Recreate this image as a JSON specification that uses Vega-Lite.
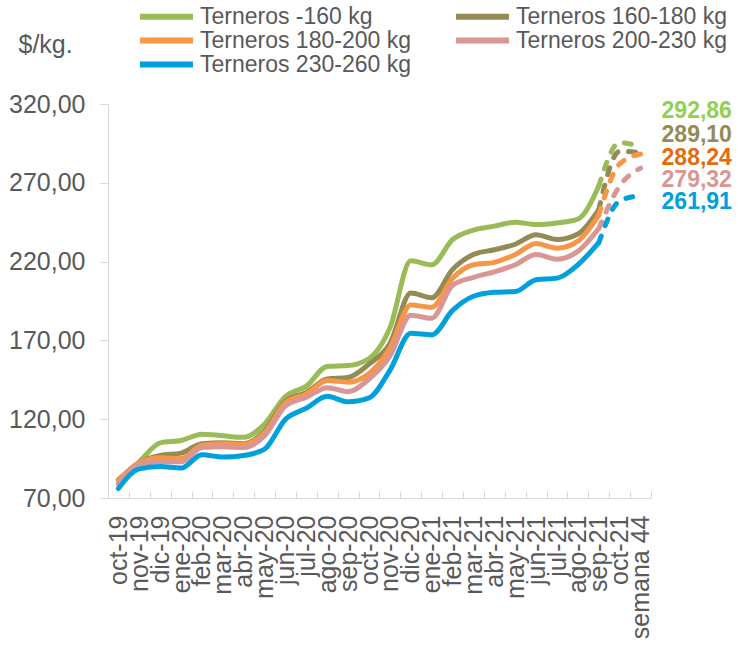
{
  "$schema": "https://vega.github.io/schema/vega-lite/v6.json",
  "width": 543,
  "height": 394,
  "autosize": {"type": "none"},
  "padding": {"left": 108, "top": 104, "right": 90, "bottom": 147},
  "background": "white",
  "config": {"view": {"stroke": null}, "font": "Liberation Sans"},
  "datasets": {
    "precios": [
      {"mes":"oct-19","serie":"Terneros -160 kg","valor":81.5,"tramo":"real"},
      {"mes":"nov-19","serie":"Terneros -160 kg","valor":93,"tramo":"real"},
      {"mes":"dic-19","serie":"Terneros -160 kg","valor":105,"tramo":"real"},
      {"mes":"ene-20","serie":"Terneros -160 kg","valor":106.5,"tramo":"real"},
      {"mes":"feb-20","serie":"Terneros -160 kg","valor":110.5,"tramo":"real"},
      {"mes":"mar-20","serie":"Terneros -160 kg","valor":109.5,"tramo":"real"},
      {"mes":"abr-20","serie":"Terneros -160 kg","valor":108.5,"tramo":"real"},
      {"mes":"may-20","serie":"Terneros -160 kg","valor":117,"tramo":"real"},
      {"mes":"jun-20","serie":"Terneros -160 kg","valor":134.5,"tramo":"real"},
      {"mes":"jul-20","serie":"Terneros -160 kg","valor":141,"tramo":"real"},
      {"mes":"ago-20","serie":"Terneros -160 kg","valor":153.5,"tramo":"real"},
      {"mes":"sep-20","serie":"Terneros -160 kg","valor":154,"tramo":"real"},
      {"mes":"oct-20","serie":"Terneros -160 kg","valor":158.5,"tramo":"real"},
      {"mes":"nov-20","serie":"Terneros -160 kg","valor":178,"tramo":"real"},
      {"mes":"dic-20","serie":"Terneros -160 kg","valor":220.5,"tramo":"real"},
      {"mes":"ene-21","serie":"Terneros -160 kg","valor":218,"tramo":"real"},
      {"mes":"feb-21","serie":"Terneros -160 kg","valor":234,"tramo":"real"},
      {"mes":"mar-21","serie":"Terneros -160 kg","valor":240,"tramo":"real"},
      {"mes":"abr-21","serie":"Terneros -160 kg","valor":242.5,"tramo":"real"},
      {"mes":"may-21","serie":"Terneros -160 kg","valor":245,"tramo":"real"},
      {"mes":"jun-21","serie":"Terneros -160 kg","valor":243.5,"tramo":"real"},
      {"mes":"jul-21","serie":"Terneros -160 kg","valor":244.5,"tramo":"real"},
      {"mes":"ago-21","serie":"Terneros -160 kg","valor":247,"tramo":"real"},
      {"mes":"sep-21","serie":"Terneros -160 kg","valor":268,"tramo":"enlace"},
      {"mes":"oct-21","serie":"Terneros -160 kg","valor":295.5,"tramo":"proy"},
      {"mes":"semana 44","serie":"Terneros -160 kg","valor":292.86,"tramo":"proy"},

      {"mes":"oct-19","serie":"Terneros 160-180 kg","valor":81.5,"tramo":"real"},
      {"mes":"nov-19","serie":"Terneros 160-180 kg","valor":92.5,"tramo":"real"},
      {"mes":"dic-19","serie":"Terneros 160-180 kg","valor":97,"tramo":"real"},
      {"mes":"ene-20","serie":"Terneros 160-180 kg","valor":98.5,"tramo":"real"},
      {"mes":"feb-20","serie":"Terneros 160-180 kg","valor":104.5,"tramo":"real"},
      {"mes":"mar-20","serie":"Terneros 160-180 kg","valor":105,"tramo":"real"},
      {"mes":"abr-20","serie":"Terneros 160-180 kg","valor":104.5,"tramo":"real"},
      {"mes":"may-20","serie":"Terneros 160-180 kg","valor":112.5,"tramo":"real"},
      {"mes":"jun-20","serie":"Terneros 160-180 kg","valor":131.5,"tramo":"real"},
      {"mes":"jul-20","serie":"Terneros 160-180 kg","valor":137,"tramo":"real"},
      {"mes":"ago-20","serie":"Terneros 160-180 kg","valor":145.5,"tramo":"real"},
      {"mes":"sep-20","serie":"Terneros 160-180 kg","valor":146.5,"tramo":"real"},
      {"mes":"oct-20","serie":"Terneros 160-180 kg","valor":155,"tramo":"real"},
      {"mes":"nov-20","serie":"Terneros 160-180 kg","valor":168,"tramo":"real"},
      {"mes":"dic-20","serie":"Terneros 160-180 kg","valor":200,"tramo":"real"},
      {"mes":"ene-21","serie":"Terneros 160-180 kg","valor":197,"tramo":"real"},
      {"mes":"feb-21","serie":"Terneros 160-180 kg","valor":215,"tramo":"real"},
      {"mes":"mar-21","serie":"Terneros 160-180 kg","valor":224.5,"tramo":"real"},
      {"mes":"abr-21","serie":"Terneros 160-180 kg","valor":227.5,"tramo":"real"},
      {"mes":"may-21","serie":"Terneros 160-180 kg","valor":231,"tramo":"real"},
      {"mes":"jun-21","serie":"Terneros 160-180 kg","valor":237,"tramo":"real"},
      {"mes":"jul-21","serie":"Terneros 160-180 kg","valor":234,"tramo":"real"},
      {"mes":"ago-21","serie":"Terneros 160-180 kg","valor":237.5,"tramo":"real"},
      {"mes":"sep-21","serie":"Terneros 160-180 kg","valor":253,"tramo":"enlace"},
      {"mes":"oct-21","serie":"Terneros 160-180 kg","valor":290,"tramo":"proy"},
      {"mes":"semana 44","serie":"Terneros 160-180 kg","valor":289.10,"tramo":"proy"},

      {"mes":"oct-19","serie":"Terneros 180-200 kg","valor":81,"tramo":"real"},
      {"mes":"nov-19","serie":"Terneros 180-200 kg","valor":92.5,"tramo":"real"},
      {"mes":"dic-19","serie":"Terneros 180-200 kg","valor":95.5,"tramo":"real"},
      {"mes":"ene-20","serie":"Terneros 180-200 kg","valor":95,"tramo":"real"},
      {"mes":"feb-20","serie":"Terneros 180-200 kg","valor":103.5,"tramo":"real"},
      {"mes":"mar-20","serie":"Terneros 180-200 kg","valor":104.5,"tramo":"real"},
      {"mes":"abr-20","serie":"Terneros 180-200 kg","valor":104,"tramo":"real"},
      {"mes":"may-20","serie":"Terneros 180-200 kg","valor":111.5,"tramo":"real"},
      {"mes":"jun-20","serie":"Terneros 180-200 kg","valor":130.5,"tramo":"real"},
      {"mes":"jul-20","serie":"Terneros 180-200 kg","valor":136,"tramo":"real"},
      {"mes":"ago-20","serie":"Terneros 180-200 kg","valor":144.5,"tramo":"real"},
      {"mes":"sep-20","serie":"Terneros 180-200 kg","valor":143.5,"tramo":"real"},
      {"mes":"oct-20","serie":"Terneros 180-200 kg","valor":149,"tramo":"real"},
      {"mes":"nov-20","serie":"Terneros 180-200 kg","valor":165,"tramo":"real"},
      {"mes":"dic-20","serie":"Terneros 180-200 kg","valor":192.5,"tramo":"real"},
      {"mes":"ene-21","serie":"Terneros 180-200 kg","valor":191,"tramo":"real"},
      {"mes":"feb-21","serie":"Terneros 180-200 kg","valor":209.5,"tramo":"real"},
      {"mes":"mar-21","serie":"Terneros 180-200 kg","valor":218,"tramo":"real"},
      {"mes":"abr-21","serie":"Terneros 180-200 kg","valor":219.5,"tramo":"real"},
      {"mes":"may-21","serie":"Terneros 180-200 kg","valor":224.5,"tramo":"real"},
      {"mes":"jun-21","serie":"Terneros 180-200 kg","valor":231.5,"tramo":"real"},
      {"mes":"jul-21","serie":"Terneros 180-200 kg","valor":228.5,"tramo":"real"},
      {"mes":"ago-21","serie":"Terneros 180-200 kg","valor":233,"tramo":"real"},
      {"mes":"sep-21","serie":"Terneros 180-200 kg","valor":249.5,"tramo":"enlace"},
      {"mes":"oct-21","serie":"Terneros 180-200 kg","valor":282,"tramo":"proy"},
      {"mes":"semana 44","serie":"Terneros 180-200 kg","valor":288.24,"tramo":"proy"},

      {"mes":"oct-19","serie":"Terneros 200-230 kg","valor":79,"tramo":"real"},
      {"mes":"nov-19","serie":"Terneros 200-230 kg","valor":91.5,"tramo":"real"},
      {"mes":"dic-19","serie":"Terneros 200-230 kg","valor":93,"tramo":"real"},
      {"mes":"ene-20","serie":"Terneros 200-230 kg","valor":93,"tramo":"real"},
      {"mes":"feb-20","serie":"Terneros 200-230 kg","valor":102,"tramo":"real"},
      {"mes":"mar-20","serie":"Terneros 200-230 kg","valor":102.5,"tramo":"real"},
      {"mes":"abr-20","serie":"Terneros 200-230 kg","valor":102,"tramo":"real"},
      {"mes":"may-20","serie":"Terneros 200-230 kg","valor":109.5,"tramo":"real"},
      {"mes":"jun-20","serie":"Terneros 200-230 kg","valor":128.5,"tramo":"real"},
      {"mes":"jul-20","serie":"Terneros 200-230 kg","valor":134,"tramo":"real"},
      {"mes":"ago-20","serie":"Terneros 200-230 kg","valor":140,"tramo":"real"},
      {"mes":"sep-20","serie":"Terneros 200-230 kg","valor":137.5,"tramo":"real"},
      {"mes":"oct-20","serie":"Terneros 200-230 kg","valor":145.5,"tramo":"real"},
      {"mes":"nov-20","serie":"Terneros 200-230 kg","valor":160,"tramo":"real"},
      {"mes":"dic-20","serie":"Terneros 200-230 kg","valor":186,"tramo":"real"},
      {"mes":"ene-21","serie":"Terneros 200-230 kg","valor":184,"tramo":"real"},
      {"mes":"feb-21","serie":"Terneros 200-230 kg","valor":205,"tramo":"real"},
      {"mes":"mar-21","serie":"Terneros 200-230 kg","valor":210,"tramo":"real"},
      {"mes":"abr-21","serie":"Terneros 200-230 kg","valor":213.5,"tramo":"real"},
      {"mes":"may-21","serie":"Terneros 200-230 kg","valor":218,"tramo":"real"},
      {"mes":"jun-21","serie":"Terneros 200-230 kg","valor":224.5,"tramo":"real"},
      {"mes":"jul-21","serie":"Terneros 200-230 kg","valor":221.5,"tramo":"real"},
      {"mes":"ago-21","serie":"Terneros 200-230 kg","valor":226.5,"tramo":"real"},
      {"mes":"sep-21","serie":"Terneros 200-230 kg","valor":241,"tramo":"enlace"},
      {"mes":"oct-21","serie":"Terneros 200-230 kg","valor":268,"tramo":"proy"},
      {"mes":"semana 44","serie":"Terneros 200-230 kg","valor":279.32,"tramo":"proy"},

      {"mes":"oct-19","serie":"Terneros 230-260 kg","valor":76,"tramo":"real"},
      {"mes":"nov-19","serie":"Terneros 230-260 kg","valor":88.5,"tramo":"real"},
      {"mes":"dic-19","serie":"Terneros 230-260 kg","valor":90,"tramo":"real"},
      {"mes":"ene-20","serie":"Terneros 230-260 kg","valor":89,"tramo":"real"},
      {"mes":"feb-20","serie":"Terneros 230-260 kg","valor":97.5,"tramo":"real"},
      {"mes":"mar-20","serie":"Terneros 230-260 kg","valor":96,"tramo":"real"},
      {"mes":"abr-20","serie":"Terneros 230-260 kg","valor":97,"tramo":"real"},
      {"mes":"may-20","serie":"Terneros 230-260 kg","valor":101,"tramo":"real"},
      {"mes":"jun-20","serie":"Terneros 230-260 kg","valor":120,"tramo":"real"},
      {"mes":"jul-20","serie":"Terneros 230-260 kg","valor":127,"tramo":"real"},
      {"mes":"ago-20","serie":"Terneros 230-260 kg","valor":134.5,"tramo":"real"},
      {"mes":"sep-20","serie":"Terneros 230-260 kg","valor":131,"tramo":"real"},
      {"mes":"oct-20","serie":"Terneros 230-260 kg","valor":133.5,"tramo":"real"},
      {"mes":"nov-20","serie":"Terneros 230-260 kg","valor":151,"tramo":"real"},
      {"mes":"dic-20","serie":"Terneros 230-260 kg","valor":174.5,"tramo":"real"},
      {"mes":"ene-21","serie":"Terneros 230-260 kg","valor":173.5,"tramo":"real"},
      {"mes":"feb-21","serie":"Terneros 230-260 kg","valor":189,"tramo":"real"},
      {"mes":"mar-21","serie":"Terneros 230-260 kg","valor":198,"tramo":"real"},
      {"mes":"abr-21","serie":"Terneros 230-260 kg","valor":200.5,"tramo":"real"},
      {"mes":"may-21","serie":"Terneros 230-260 kg","valor":201,"tramo":"real"},
      {"mes":"jun-21","serie":"Terneros 230-260 kg","valor":208.5,"tramo":"real"},
      {"mes":"jul-21","serie":"Terneros 230-260 kg","valor":209.5,"tramo":"real"},
      {"mes":"ago-21","serie":"Terneros 230-260 kg","valor":218,"tramo":"real"},
      {"mes":"sep-21","serie":"Terneros 230-260 kg","valor":232,"tramo":"enlace"},
      {"mes":"oct-21","serie":"Terneros 230-260 kg","valor":258.5,"tramo":"proy"},
      {"mes":"semana 44","serie":"Terneros 230-260 kg","valor":261.91,"tramo":"proy"}
    ],
    "finales": [
      {"mes":"semana 44","serie":"Terneros -160 kg","valor":292.86,"texto":"292,86"},
      {"mes":"semana 44","serie":"Terneros 160-180 kg","valor":289.10,"texto":"289,10"},
      {"mes":"semana 44","serie":"Terneros 180-200 kg","valor":288.24,"texto":"288,24"},
      {"mes":"semana 44","serie":"Terneros 200-230 kg","valor":279.32,"texto":"279,32"},
      {"mes":"semana 44","serie":"Terneros 230-260 kg","valor":261.91,"texto":"261,91"}
    ]
  },
  "encoding": {
    "x": {
      "field": "mes",
      "type": "ordinal",
      "sort": ["oct-19","nov-19","dic-19","ene-20","feb-20","mar-20","abr-20","may-20","jun-20","jul-20","ago-20","sep-20","oct-20","nov-20","dic-20","ene-21","feb-21","mar-21","abr-21","may-21","jun-21","jul-21","ago-21","sep-21","oct-21","semana 44"],
      "bandPosition": 0.5,
      "scale": {"type": "band", "paddingInner": 0, "paddingOuter": 0},
      "axis": {
        "title": null,
        "labelAngle": -90,
        "labelAlign": "right",
        "labelBaseline": "middle",
        "labelFontSize": 25,
        "labelColor": "#595959",
        "labelOverlap": false,
        "labelPadding": 24,
        "tickBand": "extent",
        "tickSize": -7,
        "tickColor": "#D9D9D9",
        "domainColor": "#D9D9D9",
        "grid": false
      }
    },
    "y": {
      "field": "valor",
      "type": "quantitative",
      "scale": {"domain": [70, 320], "nice": false, "zero": false},
      "axis": {
        "values": [70, 120, 170, 220, 270, 320],
        "labelExpr": "replace(format(datum.value, '.2f'), '.', ',')",
        "labelFontSize": 25,
        "labelColor": "#595959",
        "labelPadding": 15,
        "tickSize": 8,
        "tickColor": "#D9D9D9",
        "domainColor": "#D9D9D9",
        "grid": false,
        "title": "$/kg.",
        "titleAngle": 0,
        "titleX": -90,
        "titleY": -60,
        "titleAlign": "left",
        "titleBaseline": "middle",
        "titleFontSize": 25,
        "titleFontWeight": "normal",
        "titleColor": "#595959"
      }
    }
  },
  "layer": [
    {
      "data": {"name": "precios"},
      "transform": [{"filter": "datum.tramo != 'proy'"}],
      "mark": {"type": "line", "interpolate": "monotone", "strokeWidth": 5, "strokeCap": "round"},
      "encoding": {
        "color": {
          "field": "serie",
          "type": "nominal",
          "scale": {
            "domain": ["Terneros -160 kg","Terneros 160-180 kg","Terneros 180-200 kg","Terneros 200-230 kg","Terneros 230-260 kg"],
            "range": ["#9BBB59","#948A54","#F79646","#D99694","#00A0DC"]
          },
          "legend": {
            "title": null,
            "orient": "none",
            "direction": "horizontal",
            "legendX": 47,
            "legendY": -99,
            "columns": 2,
            "columnPadding": 33,
            "rowPadding": -1,
            "padding": 0,
            "symbolType": "M-5,0H5",
            "symbolSize": 112,
            "symbolStrokeWidth": 6,
            "labelFontSize": 23,
            "labelColor": "#595959",
            "labelOffset": 22,
            "labelLimit": 400
          }
        }
      }
    },
    {
      "data": {"name": "precios"},
      "transform": [{"filter": "datum.tramo != 'real'"}],
      "mark": {"type": "line", "interpolate": "monotone", "strokeWidth": 5, "strokeCap": "round", "strokeDash": [7, 11]},
      "encoding": {
        "color": {"field": "serie", "type": "nominal"}
      }
    },
    {
      "data": {"name": "finales"},
      "transform": [{"filter": "datum.serie == 'Terneros -160 kg'"}],
      "mark": {"type": "text", "align": "left", "baseline": "middle", "dx": 21, "dy": -36, "fontSize": 23, "fontWeight": "bold", "color": "#92D050"},
      "encoding": {"text": {"field": "texto"}}
    },
    {
      "data": {"name": "finales"},
      "transform": [{"filter": "datum.serie == 'Terneros 160-180 kg'"}],
      "mark": {"type": "text", "align": "left", "baseline": "middle", "dx": 21, "dy": -18, "fontSize": 23, "fontWeight": "bold", "color": "#948A54"},
      "encoding": {"text": {"field": "texto"}}
    },
    {
      "data": {"name": "finales"},
      "transform": [{"filter": "datum.serie == 'Terneros 180-200 kg'"}],
      "mark": {"type": "text", "align": "left", "baseline": "middle", "dx": 21, "dy": 4, "fontSize": 23, "fontWeight": "bold", "color": "#E46C0A"},
      "encoding": {"text": {"field": "texto"}}
    },
    {
      "data": {"name": "finales"},
      "transform": [{"filter": "datum.serie == 'Terneros 200-230 kg'"}],
      "mark": {"type": "text", "align": "left", "baseline": "middle", "dx": 21, "dy": 12, "fontSize": 23, "fontWeight": "bold", "color": "#D99694"},
      "encoding": {"text": {"field": "texto"}}
    },
    {
      "data": {"name": "finales"},
      "transform": [{"filter": "datum.serie == 'Terneros 230-260 kg'"}],
      "mark": {"type": "text", "align": "left", "baseline": "middle", "dx": 21, "dy": 6, "fontSize": 23, "fontWeight": "bold", "color": "#00A0DC"},
      "encoding": {"text": {"field": "texto"}}
    }
  ]
}
